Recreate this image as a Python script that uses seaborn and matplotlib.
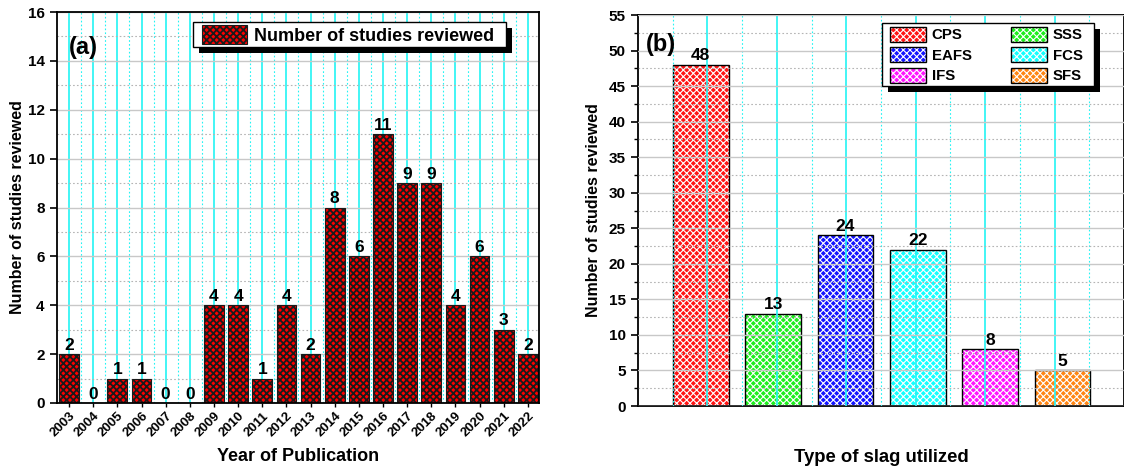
import numpy as np
import pandas as pd
import matplotlib
matplotlib.use("Agg")
import matplotlib.pyplot as plt
import seaborn as sns
from matplotlib.patches import Patch, Rectangle
from matplotlib.legend_handler import HandlerTuple
from matplotlib.ticker import MultipleLocator, FixedLocator, NullFormatter

# ---- data -------------------------------------------------------------
years = [str(y) for y in range(2003, 2023)]
studies_per_year = [2, 0, 1, 1, 0, 0, 4, 4, 1, 4, 2, 8, 6, 11, 9, 9, 4, 6, 3, 2]

slag_types = ["CPS", "SSS", "EAFS", "FCS", "IFS", "SFS"]
studies_per_slag = [48, 13, 24, 22, 8, 5]
slag_colors = ["#ff1414", "#1eee1e", "#1414ff", "#14ffff", "#ff14ff", "#ff8614"]

# ---- style ------------------------------------------------------------
sns.set_style("white")
plt.rcParams["font.family"] = ["Liberation Sans", "DejaVu Sans"]
plt.rcParams["font.weight"] = "bold"
plt.rcParams["axes.labelweight"] = "bold"
plt.rcParams["axes.edgecolor"] = "black"
plt.rcParams["axes.linewidth"] = 1.3
for key in ["text.color", "axes.labelcolor", "xtick.color", "ytick.color"]:
    plt.rcParams[key] = "black"

W, H = 1124, 472
fig = plt.figure(figsize=(W / 100, H / 100), dpi=100)
ax1 = fig.add_axes([57 / W, 1 - 403 / H, (539 - 57) / W, (403 - 12) / H])
ax2 = fig.add_axes([638 / W, 1 - 406 / H, (W - 638) / W, (406 - 15) / H])


def framed_legend(ax, legend, pad_l, pad_r, pad_t, pad_b, shadow=6):
    """Draw a square white frame with a solid black drop shadow behind a legend."""
    fig.canvas.draw()
    bb = legend.get_window_extent()
    x, y = bb.x0 - pad_l, bb.y0 - pad_b
    w, h = bb.width + pad_l + pad_r, bb.height + pad_t + pad_b
    z = legend.get_zorder()
    ax.add_artist(Rectangle((x + shadow, y - shadow), w, h, transform=None,
                            facecolor="black", edgecolor="none",
                            zorder=z - 0.2, clip_on=False))
    ax.add_artist(Rectangle((x, y), w, h, transform=None, facecolor="white",
                            edgecolor="black", lw=1.0, zorder=z - 0.1,
                            clip_on=False))


# ---- (a) studies per year --------------------------------------------
df_year = pd.DataFrame({"year": years, "n": studies_per_year})
plt.rcParams["hatch.linewidth"] = 1.3
sns.barplot(data=df_year, x="year", y="n", ax=ax1, color="#ff0000",
            saturation=1, width=0.82, errorbar=None,
            edgecolor="black", linewidth=0.8)
for p in ax1.patches:
    p.set_hatch("xxxxx")
    p.set_edgecolor("#1a1a1a")

for c in ax1.containers:
    ax1.bar_label(c, fmt="%d", padding=1, fontsize=12.5, fontweight="bold")

ax1.set_xlim(-0.5, 19.46)
ax1.set_ylim(0, 16)
ax1.yaxis.set_major_locator(MultipleLocator(2))
ax1.yaxis.set_minor_locator(MultipleLocator(1))
ax1.xaxis.set_minor_locator(FixedLocator(np.arange(0.5, 19.5, 1)))
ax1.set_axisbelow(True)
ax1.grid(which="major", axis="x", color="#22f4f4", lw=1.2, ls="-")
ax1.grid(which="minor", axis="x", color="#22f4f4", lw=0.8, ls=(0, (1.5, 2)))
ax1.grid(which="major", axis="y", color="#c8c8c8", lw=1.0, ls="-")
ax1.grid(which="minor", axis="y", color="#b4b4b4", lw=0.8, ls=(0, (1.5, 2)))
ax1.tick_params(axis="y", which="major", direction="out", length=5, width=1.2,
                pad=4, labelsize=11, left=True)
ax1.tick_params(axis="y", which="minor", length=0)
ax1.tick_params(axis="x", which="major", direction="out", length=3, width=1.0,
                pad=2, labelsize=9.5, bottom=True)
ax1.tick_params(axis="x", which="minor", length=0)
plt.setp(ax1.get_xticklabels(), rotation=45, ha="right",
         rotation_mode="anchor", fontweight="bold")
plt.setp(ax1.get_yticklabels(), fontweight="bold")
for s in ax1.spines.values():
    s.set_visible(True)
    s.set_linewidth(1.3)

ax1.set_xlabel("Year of Publication", fontsize=13, fontweight="bold")
ax1.set_ylabel("Number of studies reviewed", fontsize=11.5, fontweight="bold")
ax1.xaxis.set_label_coords(0.5, -0.115)
ax1.yaxis.set_label_coords(-0.066, 0.5)
ax1.text(0.025, 0.91, "(a)", transform=ax1.transAxes, fontsize=17,
         fontweight="bold", va="center", ha="left")

h_year = Patch(facecolor="#ff0000", edgecolor="#1a1a1a", hatch="xxxxx", lw=0.8)
leg1 = ax1.legend([h_year], ["Number of studies reviewed"], loc="upper right",
                  bbox_to_anchor=(0.907, 0.967), borderaxespad=0,
                  handlelength=2.5, handleheight=1.25, handletextpad=0.4,
                  borderpad=0, frameon=False,
                  prop={"weight": "bold", "size": 13})

# ---- (b) studies per slag type ---------------------------------------
df_slag = pd.DataFrame({"slag": slag_types, "n": studies_per_slag})
plt.rcParams["hatch.linewidth"] = 0.8
sns.barplot(data=df_slag, x="slag", y="n", hue="slag", palette=slag_colors,
            ax=ax2, saturation=1, width=0.77, errorbar=None, legend=False,
            linewidth=0)
for p in ax2.patches:
    p.set_hatch("xxxxx")
    p.set_edgecolor("white")
    p.set_linewidth(0)
sns.barplot(data=df_slag, x="slag", y="n", ax=ax2, width=0.77, fill=False,
            color="black", errorbar=None, linewidth=1.0)
for p in ax2.patches[len(slag_types):]:
    p.set_edgecolor("black")
ax2.bar_label(ax2.containers[-1], fmt="%d", padding=1, fontsize=12.5,
              fontweight="bold")

x0, x1 = -0.867, 5.85
ax2.set_xlim(x0, x1)
ax2.set_ylim(0, 55)
span = x1 - x0
ax2.xaxis.set_major_locator(FixedLocator(x0 + span * np.arange(1, 7) / 7))
ax2.xaxis.set_minor_locator(FixedLocator(x0 + span * (np.arange(0, 7) + 0.5) / 7))
ax2.xaxis.set_major_formatter(NullFormatter())
ax2.yaxis.set_major_locator(MultipleLocator(5))
ax2.yaxis.set_minor_locator(MultipleLocator(2.5))
ax2.set_axisbelow(False)
ax2.grid(which="major", axis="x", color="#22f4f4", lw=1.2, ls="-")
ax2.grid(which="minor", axis="x", color="#22f4f4", lw=0.8, ls=(0, (1.5, 2)))
ax2.grid(which="major", axis="y", color="#c8c8c8", lw=1.0, ls="-")
ax2.grid(which="minor", axis="y", color="#b4b4b4", lw=0.8, ls=(0, (1.5, 2)))
ax2.tick_params(axis="x", which="both", length=0)
ax2.tick_params(axis="y", which="major", direction="out", length=5, width=1.2,
                pad=4, labelsize=11, left=True)
ax2.tick_params(axis="y", which="minor", direction="out", length=3, width=1.0,
                left=True)
plt.setp(ax2.get_yticklabels(), fontweight="bold")
for s in ax2.spines.values():
    s.set_visible(True)
    s.set_linewidth(1.3)

ax2.set_xlabel("Type of slag utilized", fontsize=13.3, fontweight="bold")
ax2.set_ylabel("Number of studies reviewed", fontsize=11.5, fontweight="bold")
ax2.xaxis.set_label_coords(0.5, -0.11)
ax2.yaxis.set_label_coords(-0.076, 0.5)
ax2.text(0.016, 0.925, "(b)", transform=ax2.transAxes, fontsize=17,
         fontweight="bold", va="center", ha="left")

order = [0, 2, 4, 1, 3, 5]
handles = []
for i in order:
    fillp = Patch(facecolor=slag_colors[i], edgecolor="white", hatch="xxxxx", lw=0)
    edgep = Patch(facecolor="none", edgecolor="black", lw=1.0)
    handles.append((fillp, edgep))
leg2 = ax2.legend(handles, [slag_types[i] for i in order], ncol=2,
                  handler_map={tuple: HandlerTuple(ndivide=1, pad=0)},
                  loc="upper right", bbox_to_anchor=(0.915, 0.97),
                  borderaxespad=0, handlelength=2.45, handleheight=1.15,
                  handletextpad=0.35, labelspacing=0.33, columnspacing=2.6,
                  borderpad=0, frameon=False,
                  prop={"weight": "bold", "size": 10.8})

framed_legend(ax1, leg1, 9, 12, 2.5, 2.5, shadow=6)
framed_legend(ax2, leg2, 8, 11, 4, 3, shadow=6)

fig.savefig("out.png", dpi=100)
